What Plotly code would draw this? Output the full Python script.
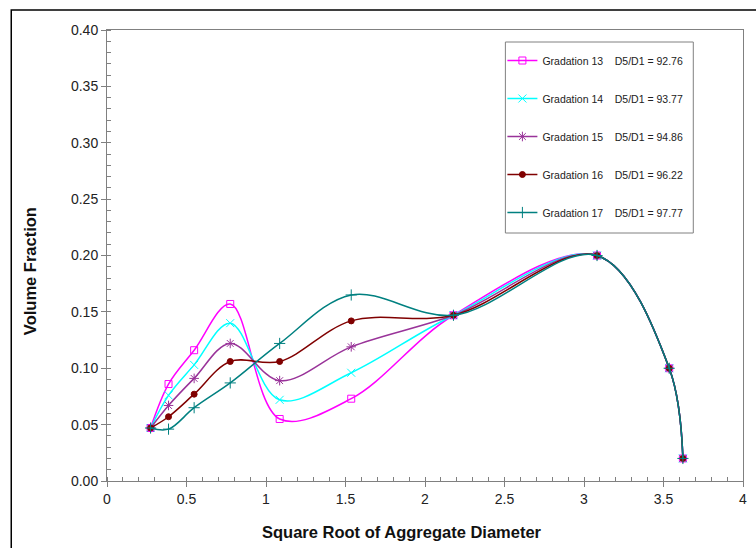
import plotly.graph_objects as go

x_sqrt_d = [0.274, 0.387, 0.548, 0.775, 1.086, 1.536, 2.179, 3.082, 3.536, 3.622]

names = ["Gradation 13", "Gradation 14", "Gradation 15", "Gradation 16", "Gradation 17"]
ratios = ["92.76", "93.77", "94.86", "96.22", "97.77"]

g13 = [0.047, 0.086, 0.116, 0.157, 0.055, 0.073, 0.147, 0.200, 0.100, 0.020]
g14 = [0.047, 0.076, 0.103, 0.140, 0.072, 0.096, 0.147, 0.200, 0.100, 0.020]
g15 = [0.047, 0.067, 0.091, 0.122, 0.089, 0.119, 0.147, 0.200, 0.100, 0.020]
g16 = [0.047, 0.057, 0.077, 0.106, 0.106, 0.142, 0.147, 0.200, 0.100, 0.020]
g17 = [0.047, 0.046, 0.065, 0.087, 0.122, 0.165, 0.147, 0.200, 0.100, 0.020]

series = [g13, g14, g15, g16, g17]
colors = ["#FF00FF", "#00FFFF", "#993399", "#800000", "#008080"]
symbols = ["square-open", "x-thin-open", "asterisk-open", "circle", "cross-thin-open"]
sizes = [7, 8, 8, 6, 8]

fig = go.Figure()
for i, ys in enumerate(series):
    fig.add_trace(go.Scatter(
        x=x_sqrt_d, y=ys, mode="lines+markers",
        name=names[i] + "\u00a0\u00a0\u00a0\u00a0D5/D1 = " + ratios[i],
        legendgroup="g%d" % i,
        line=dict(color=colors[i], width=1.5, shape="spline", smoothing=1.0),
        marker=dict(symbol=symbols[i], size=sizes[i], color=colors[i],
                    line=dict(color=colors[i], width=1)),
    ))

PL, PR, PT, PB = 107.3, 747.0, 30.0, 481.0
pw, ph = PR - PL, PB - PT

def px2paper_x(px):
    return (px - PL) / pw

def px2paper_y(py):
    return (PB - py) / ph

# outer chart frame (cropped at right and bottom)
fig.add_shape(type="rect", xref="paper", yref="paper",
              x0=px2paper_x(11), x1=px2paper_x(790),
              y0=px2paper_y(600), y1=px2paper_y(10),
              line=dict(color="black", width=1.5), fillcolor="rgba(0,0,0,0)", layer="below")
# legend box
fig.add_shape(type="rect", xref="paper", yref="paper",
              x0=px2paper_x(508), x1=px2paper_x(697),
              y0=px2paper_y(233), y1=px2paper_y(42),
              line=dict(color="#808080", width=1), fillcolor="white", layer="below")

fig.add_annotation(text="<b>Square Root of Aggregate Diameter</b>", xref="paper", yref="paper",
                   x=px2paper_x(404), y=px2paper_y(532), showarrow=False,
                   xanchor="center", yanchor="middle",
                   font=dict(size=16.5, color="#111111"))
fig.add_annotation(text="<b>Volume Fraction</b>", xref="paper", yref="paper",
                   x=px2paper_x(30), y=px2paper_y(271), showarrow=False, textangle=-90,
                   xanchor="center", yanchor="middle",
                   font=dict(size=16.5, color="#111111"))

fig.update_layout(
    width=756, height=548,
    margin=dict(l=PL, r=756 - PR, t=PT, b=548 - PB, pad=0),
    paper_bgcolor="white", plot_bgcolor="white",
    font=dict(family="Arial, Liberation Sans, sans-serif", color="#222222"),
    showlegend=True,
    legend=dict(x=px2paper_x(505), y=px2paper_y(46), xanchor="left", yanchor="top",
                borderwidth=0, bgcolor="rgba(0,0,0,0)",
                font=dict(size=10.5, color="#222222"), tracegroupgap=19,
                itemwidth=30),
    xaxis=dict(range=[0, 4], dtick=0.5, tick0=0, showgrid=False, zeroline=False,
               showline=True, linecolor="#808080", linewidth=1, mirror=True,
               ticks="outside", ticklen=5, tickcolor="#808080",
               minor=dict(dtick=0.1, ticks="inside", ticklen=4, tickcolor="#808080"),
               tickfont=dict(size=14, color="#222222")),
    yaxis=dict(range=[0, 0.4], dtick=0.05, tick0=0, tickformat=".2f", showgrid=False,
               zeroline=False, showline=True, linecolor="#808080", linewidth=1, mirror=True,
               ticks="outside", ticklen=5, tickcolor="#808080",
               minor=dict(dtick=0.01, ticks="inside", ticklen=4, tickcolor="#808080"),
               tickfont=dict(size=14, color="#222222")),
)

fig.write_html("out.html")
